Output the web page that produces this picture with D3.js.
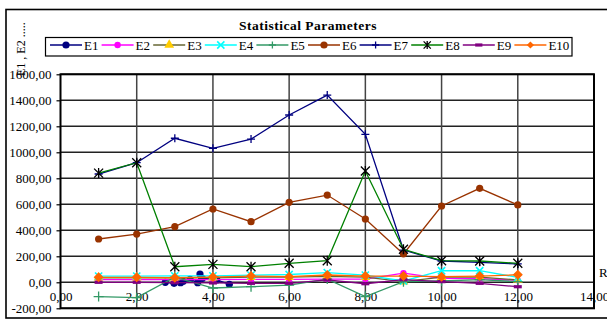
<!DOCTYPE html>
<html>
<head>
<meta charset="utf-8">
<script src="https://cdn.jsdelivr.net/npm/d3@7"></script>
<style>
  html, body { margin: 0; padding: 0; background: #fff; }
  svg { display: block; }
</style>
</head>
<body>
<svg id="chart" width="607" height="320"></svg>
<script>
// ---- data ----
const runs = [1, 2, 3, 4, 5, 6, 7, 8, 9, 10, 11, 12];

// E1 was sampled at irregular x positions
const e1X = [2.75, 2.98, 3.15, 3.22, 3.40, 3.60, 3.66, 3.72, 4.02, 4.10, 4.43];
const e1Y = [0, -8, -3, 8, 23, -3, 64, 30, 25, 18, -15];

const e2 = [20, 20, 20, 20, 22, 22, 25, 25, 70, 30, 28, 15];
const e3 = [35, 35, 35, 35, 40, 40, 45, 40, 5, 40, 40, 18];
const e4 = [48, 48, 50, 50, 55, 60, 75, 55, 10, 89, 89, 38];
const e5 = [-110, -118, 40, -44, -34, -21, 25, -110, 5, 10, 20, 5];
const e6 = [333, 371, 428, 564, 466, 615, 671, 487, 218, 587, 723, 595];
const e7 = [833, 920, 1108, 1031, 1102, 1287, 1440, 1138, 248, 164, 154, 141];
const e8 = [840, 920, 120, 138, 120, 146, 166, 856, 254, 166, 164, 146];
const e9 = [0, 0, -3, -5, -8, -8, 18, -11, 20, 5, -8, -34];
const e10 = [38, 38, 35, 40, 48, 43, 56, 48, 48, 43, 48, 58];

const yTicks = [-200, 0, 200, 400, 600, 800, 1000, 1200, 1400, 1600];
const xTicks = [0, 2, 4, 6, 8, 10, 12, 14];

const series = [
  { name: "E1",  xs: e1X,  ys: e1Y, line: "#000080", marker: "circle",   fill: "#000080", size: 3.6 },
  { name: "E2",  xs: runs, ys: e2,  line: "#FF00FF", marker: "circle",   fill: "#FF00FF", size: 3.2 },
  { name: "E3",  xs: runs, ys: e3,  line: "#666633", marker: "triangle", fill: "#FFCC00", size: 3.6 },
  { name: "E4",  xs: runs, ys: e4,  line: "#00FFFF", marker: "cross",    fill: "#00FFFF", size: 3.6 },
  { name: "E5",  xs: runs, ys: e5,  line: "#339966", marker: "plus",     fill: "#339966", size: 5 },
  { name: "E6",  xs: runs, ys: e6,  line: "#993300", marker: "circle",   fill: "#993300", size: 3.6 },
  { name: "E7",  xs: runs, ys: e7,  line: "#000080", marker: "plus",     fill: "#000080", size: 4 },
  { name: "E8",  xs: runs, ys: e8,  line: "#008000", marker: "star",     fill: "#000000", size: 4.5 },
  { name: "E9",  xs: runs, ys: e9,  line: "#800080", marker: "dash",     fill: "#800080", size: 4 },
  { name: "E10", xs: runs, ys: e10, line: "#FF6600", marker: "diamond",  fill: "#FF6600", size: 5 }
];

const fmt = v => v.toFixed(2).replace(".", ",");
const SERIF = "'Liberation Serif', 'Times New Roman', serif";

// ---- layout ----
const svg = d3.select("#chart").style("font-family", SERIF);
const plot = { left: 60.5, right: 594, top: 74.3, bottom: 308.3 };

const x = d3.scaleLinear().domain([0, 14]).range([plot.left, plot.right]);
const y = d3.scaleLinear().domain([-200, 1600]).range([plot.bottom, plot.top]);

// outer chart frame
svg.append("rect")
  .attr("x", 6).attr("y", 9.5).attr("width", 620).attr("height", 308.5)
  .attr("fill", "none").attr("stroke", "#000").attr("stroke-width", 1.6);

// title
svg.append("text")
  .attr("x", 308).attr("y", 30)
  .attr("text-anchor", "middle")
  .style("font-family", SERIF)
  .attr("font-size", 13.5).attr("font-weight", "bold")
  .attr("letter-spacing", 0.5)
  .text("Statistical Parameters");

// gridlines
const grid = svg.append("g");
grid.selectAll("line.h").data(yTicks).join("line")
  .attr("x1", plot.left).attr("x2", plot.right)
  .attr("y1", d => y(d)).attr("y2", d => y(d))
  .attr("stroke", "#222").attr("stroke-width", 1.4);
grid.selectAll("line.v").data(xTicks.slice(1, -1)).join("line")
  .attr("x1", d => x(d)).attr("x2", d => x(d))
  .attr("y1", plot.top).attr("y2", plot.bottom)
  .attr("stroke", "#444").attr("stroke-width", 1.5);

// plot border
svg.append("rect")
  .attr("x", plot.left).attr("y", plot.top)
  .attr("width", plot.right - plot.left).attr("height", plot.bottom - plot.top)
  .attr("fill", "none").attr("stroke", "#000").attr("stroke-width", 2);

// y axis
const yAxis = d3.axisLeft(y).tickValues(yTicks).tickSize(4).tickPadding(5).tickFormat(fmt);
const gy = svg.append("g").attr("transform", `translate(${plot.left},0)`).call(yAxis)
  .attr("font-family", null).attr("font-size", null);
gy.select(".domain").remove();
gy.selectAll(".tick line").attr("stroke", "#000").attr("stroke-width", 1.2);
gy.selectAll(".tick text")
  .style("font-family", SERIF)
  .attr("font-size", 13).attr("fill", "#000");

// x axis crossing at zero
const xAxis = d3.axisBottom(x).tickValues(xTicks).tickSize(0).tickPadding(9).tickFormat(fmt);
const gx = svg.append("g").attr("transform", `translate(0,${y(0)})`).call(xAxis)
  .attr("font-family", null).attr("font-size", null);
gx.select(".domain").remove();
gx.selectAll(".tick text")
  .style("font-family", SERIF)
  .attr("font-size", 13).attr("fill", "#000");

// axis titles
svg.append("text")
  .attr("transform", "translate(24.5,76) rotate(-90)")
  .attr("text-anchor", "start")
  .style("font-family", SERIF)
  .attr("font-size", 12)
  .text("E1 , E2 .....");
svg.append("text")
  .attr("x", 599).attr("y", 277)
  .style("font-family", SERIF)
  .attr("font-size", 13)
  .text("R");

// marker drawing
function drawMarker(g, type, s, fill) {
  switch (type) {
    case "circle":
      g.append("circle").attr("r", s).attr("fill", fill);
      break;
    case "triangle":
      g.append("path").attr("d", d3.symbol(d3.symbolTriangle, s * s * 3.2)()).attr("fill", fill);
      break;
    case "diamond":
      g.append("path").attr("d", `M0,${-s}L${s},0L0,${s}L${-s},0Z`).attr("fill", fill);
      break;
    case "cross":
      g.append("path").attr("d", `M${-s},${-s}L${s},${s}M${-s},${s}L${s},${-s}`)
        .attr("stroke", fill).attr("stroke-width", 1.6).attr("fill", "none");
      break;
    case "plus":
      g.append("path").attr("d", `M${-s},0L${s},0M0,${-s}L0,${s}`)
        .attr("stroke", fill).attr("stroke-width", 1.3).attr("fill", "none");
      break;
    case "star":
      g.append("path").attr("d", `M${-s},${-s}L${s},${s}M${-s},${s}L${s},${-s}M0,${-s - 0.5}L0,${s + 0.5}`)
        .attr("stroke", fill).attr("stroke-width", 1.3).attr("fill", "none");
      break;
    case "dash":
      g.append("path").attr("d", `M${-s},0L${s},0`)
        .attr("stroke", fill).attr("stroke-width", 3.2).attr("fill", "none");
      break;
  }
}

// series
const line = d3.line().x(d => x(d[0])).y(d => y(d[1]));
const body = svg.append("g");
series.forEach(s => {
  const pts = s.xs.map((xv, i) => [xv, s.ys[i]]);
  const g = body.append("g");
  g.append("path").datum(pts)
    .attr("d", line)
    .attr("fill", "none").attr("stroke", s.line).attr("stroke-width", 1.3);
  pts.forEach(p => {
    const m = g.append("g").attr("transform", `translate(${x(p[0])},${y(p[1])})`);
    drawMarker(m, s.marker, s.size, s.fill);
  });
});

// legend
const legend = svg.append("g");
legend.append("rect")
  .attr("x", 45.5).attr("y", 37.5).attr("width", 526.5).attr("height", 18.5)
  .attr("fill", "#fff").attr("stroke", "#000").attr("stroke-width", 1.2);
series.forEach((s, i) => {
  const lx = 50 + i * 51.6;
  const item = legend.append("g").attr("transform", `translate(${lx},45)`);
  item.append("line").attr("x1", 0).attr("x2", 32).attr("y1", 0).attr("y2", 0)
    .attr("stroke", s.line).attr("stroke-width", 1.5);
  const m = item.append("g").attr("transform", "translate(16,0)");
  drawMarker(m, s.marker, Math.min(s.size, 3.6), s.fill);
  item.append("text").attr("x", 34).attr("y", 4.5)
    .style("font-family", SERIF)
    .attr("font-size", 13)
    .text(s.name);
});
</script>
</body>
</html>
